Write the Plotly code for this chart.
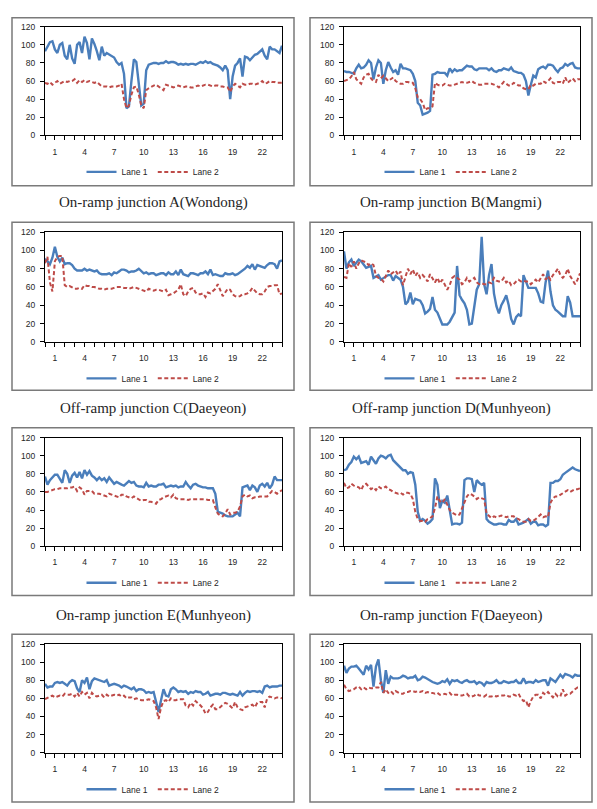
import plotly.graph_objects as go

# ---------------- data (speed, km/h, quarter-hour samples 0..24 h) ----------------
X_TICK_LABELS = ["1", "4", "7", "10", "13", "16", "19", "22"]
Y_TICKS = [0, 20, 40, 60, 80, 100, 120]
SERIES_NAMES = ["Lane 1", "Lane 2"]
CAPTIONS = ["On-ramp junction A(Wondong)", "On-ramp junction B(Mangmi)",
            "Off-ramp junction C(Daeyeon)", "Off-ramp junction D(Munhyeon)",
            "On-ramp junction E(Munhyeon)", "On-ramp junction F(Daeyeon)", "", ""]

A_LANE1 = [93, 98, 103, 104, 95, 91, 100, 102, 88, 84, 100, 85, 79, 100, 103, 91,
           109, 102, 84, 107, 101, 93, 83, 98, 88, 91, 89, 88, 86, 81, 78, 80,
           68, 30, 32, 60, 84, 81, 55, 33, 35, 72, 78, 79, 80, 80, 79, 80,
           80, 82, 80, 81, 81, 80, 78, 79, 78, 79, 78, 79, 79, 78, 80, 81,
           80, 82, 80, 81, 79, 78, 77, 75, 72, 77, 72, 40, 65, 77, 80, 85,
           65, 87, 86, 83, 86, 89, 90, 93, 95, 88, 84, 98, 95, 95, 93, 91, 99]
A_LANE2 = [58, 57, 59, 56, 58, 60, 57, 59, 60, 59, 60, 60, 62, 58, 61, 59,
           61, 59, 60, 59, 58, 59, 57, 54, 54, 54, 53, 54, 54, 54, 55, 57,
           40, 30, 33, 45, 53, 54, 45, 33, 30, 50, 52, 54, 55, 56, 54, 53,
           50, 56, 55, 54, 53, 54, 55, 54, 53, 54, 54, 53, 53, 54, 55, 54,
           55, 56, 56, 55, 54, 55, 55, 54, 54, 53, 53, 48, 54, 57, 55, 53,
           57, 56, 56, 57, 57, 56, 57, 58, 60, 57, 58, 60, 59, 59, 58, 58, 58]

B_LANE1 = [71, 70, 70, 69, 68, 74, 78, 74, 75, 78, 83, 80, 62, 75, 83, 80,
           57, 72, 81, 75, 70, 72, 67, 79, 74, 74, 73, 72, 68, 60, 36, 33,
           23, 24, 25, 27, 67, 68, 70, 69, 69, 69, 66, 74, 70, 73, 71, 72,
           72, 75, 77, 76, 76, 73, 72, 74, 74, 74, 74, 72, 74, 71, 70, 72,
           72, 74, 73, 72, 75, 71, 70, 69, 69, 67, 60, 44, 56, 66, 64, 73,
           75, 76, 74, 78, 78, 77, 73, 70, 74, 75, 79, 77, 79, 80, 75, 74, 74]
B_LANE2 = [60, 61, 62, 65, 70, 62, 60, 57, 64, 67, 68, 63, 60, 59, 67, 63,
           66, 63, 60, 62, 64, 60, 58, 57, 57, 59, 59, 58, 58, 52, 42, 40,
           36, 28, 30, 30, 32, 58, 56, 55, 55, 57, 56, 55, 55, 56, 57, 58,
           59, 58, 58, 59, 60, 58, 57, 56, 56, 57, 57, 57, 57, 56, 55, 53,
           56, 59, 57, 55, 55, 58, 57, 55, 55, 52, 51, 51, 56, 55, 57, 57,
           57, 60, 58, 60, 63, 58, 57, 59, 59, 57, 64, 58, 60, 63, 60, 62, 62]

C_LANE1 = [91, 88, 85, 92, 104, 93, 88, 92, 85, 86, 86, 84, 80, 78, 78, 78,
           80, 78, 79, 78, 77, 78, 75, 74, 74, 74, 75, 73, 76, 75, 77, 79,
           79, 78, 76, 77, 77, 78, 80, 77, 75, 76, 74, 75, 75, 73, 74, 75,
           75, 73, 76, 74, 74, 77, 73, 79, 74, 73, 72, 75, 75, 74, 73, 75,
           75, 77, 74, 79, 73, 74, 73, 72, 72, 75, 74, 74, 75, 73, 74, 76,
           78, 80, 83, 81, 85, 79, 84, 83, 82, 81, 84, 86, 86, 85, 80, 88, 89]
C_LANE2 = [86, 93, 65, 55, 88, 93, 94, 94, 62, 60, 61, 59, 58, 58, 59, 58,
           62, 61, 61, 60, 60, 59, 58, 58, 57, 58, 58, 58, 59, 60, 60, 60,
           59, 59, 58, 59, 60, 59, 58, 57, 56, 55, 58, 57, 56, 57, 57, 56,
           55, 57, 51, 52, 53, 55, 57, 63, 52, 50, 55, 58, 59, 54, 52, 52,
           53, 49, 54, 53, 55, 58, 63, 57, 50, 54, 58, 57, 52, 50, 49, 50,
           52, 52, 53, 55, 59, 56, 53, 52, 52, 55, 60, 61, 61, 62, 62, 52, 53]

D_LANE1 = [99, 80, 87, 90, 83, 86, 90, 88, 85, 81, 82, 83, 70, 72, 73, 68,
           70, 72, 73, 73, 67, 72, 70, 68, 60, 41, 44, 54, 41, 47, 46, 45,
           40, 31, 33, 36, 49, 35, 32, 26, 19, 19, 19, 22, 28, 32, 83, 51,
           46, 42, 35, 19, 20, 40, 57, 63, 115, 63, 52, 73, 85, 53, 39, 31,
           40, 45, 51, 40, 25, 19, 27, 30, 28, 73, 65, 59, 59, 59, 59, 53,
           44, 43, 65, 78, 55, 40, 35, 33, 30, 28, 28, 50, 43, 28, 28, 28, 28]
D_LANE2 = [71, 70, 86, 82, 88, 80, 86, 89, 88, 87, 84, 86, 84, 72, 70, 69,
           66, 72, 78, 74, 76, 78, 73, 77, 62, 72, 80, 74, 79, 72, 76, 70,
           73, 70, 66, 74, 70, 65, 70, 64, 68, 62, 57, 62, 70, 72, 70, 68,
           63, 65, 70, 66, 68, 70, 65, 63, 64, 63, 63, 65, 64, 70, 67, 66,
           66, 70, 65, 67, 62, 63, 66, 68, 66, 67, 66, 66, 63, 65, 68, 65,
           70, 74, 68, 72, 68, 73, 76, 80, 73, 70, 73, 80, 72, 68, 63, 68, 75]

E_LANE1 = [77, 68, 73, 76, 79, 79, 75, 70, 84, 80, 70, 78, 81, 76, 82, 75,
           84, 79, 83, 78, 76, 73, 76, 73, 75, 71, 76, 73, 69, 71, 69, 68,
           67, 69, 72, 70, 71, 67, 66, 66, 65, 70, 66, 67, 66, 66, 68, 68,
           69, 65, 66, 67, 66, 67, 65, 66, 66, 71, 67, 64, 68, 69, 67, 66,
           65, 65, 64, 64, 64, 58, 38, 37, 36, 34, 33, 33, 33, 35, 37, 33,
           65, 66, 67, 62, 67, 65, 60, 67, 69, 66, 70, 64, 68, 77, 73, 73, 73]
E_LANE2 = [60, 60, 61, 62, 63, 63, 64, 64, 64, 64, 65, 65, 66, 61, 65, 63,
           57, 61, 61, 61, 58, 58, 58, 57, 56, 55, 58, 57, 56, 55, 54, 57,
           57, 55, 54, 53, 55, 53, 52, 50, 51, 51, 49, 49, 48, 47, 51, 52,
           54, 55, 56, 54, 57, 53, 52, 52, 52, 52, 51, 52, 52, 52, 52, 52,
           52, 52, 51, 51, 51, 43, 36, 34, 33, 36, 41, 35, 37, 37, 38, 44,
           55, 57, 55, 56, 53, 54, 54, 55, 55, 55, 55, 58, 61, 60, 58, 60, 62]

F_LANE1 = [84, 85, 90, 93, 99, 96, 99, 92, 93, 94, 90, 99, 95, 91, 97, 100,
           99, 97, 100, 101, 95, 92, 89, 87, 84, 84, 80, 82, 81, 68, 38, 28,
           30, 28, 25, 27, 30, 75, 68, 42, 50, 48, 56, 40, 24, 25, 25, 24,
           26, 73, 75, 75, 74, 60, 73, 70, 68, 70, 30, 27, 25, 24, 24, 25,
           25, 24, 24, 29, 27, 27, 30, 24, 25, 26, 28, 30, 25, 27, 27, 23,
           24, 24, 22, 24, 70, 70, 72, 72, 74, 79, 81, 83, 85, 87, 85, 84, 83]
F_LANE2 = [70, 64, 65, 69, 67, 66, 65, 62, 68, 69, 66, 63, 65, 62, 66, 64,
           64, 66, 63, 62, 60, 59, 58, 59, 57, 59, 59, 58, 52, 38, 30, 28,
           28, 27, 30, 31, 33, 42, 55, 50, 48, 52, 46, 40, 37, 35, 34, 35,
           42, 48, 55, 58, 57, 55, 52, 54, 53, 52, 36, 33, 31, 33, 32, 33,
           34, 33, 32, 33, 33, 33, 31, 30, 28, 27, 27, 30, 28, 28, 30, 32,
           35, 32, 33, 32, 48, 53, 55, 55, 57, 58, 60, 62, 60, 62, 63, 63, 64]

G_LANE1 = [76, 72, 73, 73, 77, 78, 77, 78, 76, 74, 78, 80, 79, 71, 67, 80,
           77, 83, 70, 79, 82, 81, 80, 79, 78, 80, 74, 75, 76, 75, 74, 72,
           74, 73, 71, 70, 72, 68, 70, 70, 69, 66, 67, 66, 67, 55, 45, 58,
           70, 63, 62, 70, 72, 70, 67, 68, 67, 68, 65, 67, 66, 68, 67, 67,
           64, 65, 67, 63, 64, 65, 65, 64, 66, 66, 65, 64, 65, 64, 63, 67,
           63, 66, 68, 67, 68, 68, 67, 68, 66, 73, 74, 72, 73, 73, 73, 74, 74]
G_LANE2 = [59, 61, 62, 63, 61, 62, 63, 62, 65, 64, 64, 65, 62, 66, 62, 67,
           64, 66, 60, 66, 63, 62, 63, 64, 61, 64, 62, 63, 64, 63, 64, 62,
           63, 60, 61, 61, 59, 60, 59, 58, 58, 58, 59, 58, 57, 50, 37, 50,
           57, 58, 56, 60, 58, 58, 59, 59, 59, 52, 50, 55, 52, 57, 55, 52,
           49, 43, 45, 50, 53, 48, 48, 50, 52, 55, 54, 52, 49, 56, 50, 48,
           47, 50, 51, 52, 53, 50, 55, 56, 56, 50, 60, 62, 61, 60, 61, 61, 60]

H_LANE1 = [96, 88, 93, 95, 95, 96, 93, 90, 86, 96, 92, 97, 73, 95, 103, 80,
           66, 91, 76, 84, 82, 82, 82, 83, 85, 84, 82, 83, 83, 85, 80, 81,
           84, 83, 81, 79, 78, 77, 76, 77, 79, 78, 81, 76, 80, 79, 80, 78,
           77, 79, 80, 78, 78, 79, 76, 78, 77, 74, 78, 77, 77, 78, 80, 77,
           77, 79, 78, 77, 78, 78, 80, 77, 77, 82, 77, 78, 78, 77, 80, 78,
           79, 80, 80, 74, 82, 80, 78, 82, 86, 83, 87, 86, 85, 83, 86, 85, 85]
H_LANE2 = [75, 70, 68, 69, 70, 72, 73, 70, 72, 70, 72, 71, 71, 72, 72, 78,
           66, 70, 66, 68, 65, 68, 66, 65, 65, 67, 67, 68, 68, 67, 68, 67,
           68, 66, 67, 66, 66, 65, 66, 64, 64, 65, 64, 66, 63, 64, 64, 63,
           63, 64, 65, 62, 62, 63, 65, 63, 63, 62, 64, 62, 62, 63, 62, 63,
           63, 63, 64, 62, 62, 64, 63, 65, 60, 57, 58, 50, 57, 62, 64, 64,
           60, 66, 64, 67, 64, 61, 65, 62, 62, 70, 63, 65, 65, 68, 70, 72, 72]

PANELS = [(A_LANE1, A_LANE2), (B_LANE1, B_LANE2), (C_LANE1, C_LANE2), (D_LANE1, D_LANE2),
          (E_LANE1, E_LANE2), (F_LANE1, F_LANE2), (G_LANE1, G_LANE2), (H_LANE1, H_LANE2)]

# ---------------- layout geometry (pixels) ----------------
W, H = 597, 809
COL_PLOT = [(45, 282), (344, 580)]
ROW_PLOT = [(22, 132), (230, 341), (438, 548), (647, 757)]
COL_BOX = [(12, 294), (310, 592)]
ROW_BOX = [(13, 183), (220, 390), (428, 598), (637, 807)]
CAPTION_Y = [200, 409, 618]

BLUE = "#4a7ebb"
RED = "#be4b48"
TEXT = "#262626"

fig = go.Figure()
layout = dict(width=W, height=H, margin=dict(l=0, r=0, t=0, b=0),
              paper_bgcolor="white", plot_bgcolor="white",
              font=dict(family="Liberation Sans, Arial", size=9, color=TEXT),
              shapes=[], annotations=[])

tickvals_x = list(range(25))
ticktext_x = [str(h) if str(h) in X_TICK_LABELS else "" for h in tickvals_x]

for k, (lane1, lane2) in enumerate(PANELS):
    r, c = divmod(k, 2)
    sfx = "" if k == 0 else str(k + 1)
    xa, ya = "x" + sfx, "y" + sfx
    leg = "legend" + sfx
    x0, x1 = COL_PLOT[c]
    y0, y1 = ROW_PLOT[r]
    for name, vals, color, dash, width in [(SERIES_NAMES[0], lane1, BLUE, "solid", 2.4),
                                           (SERIES_NAMES[1], lane2, RED, "4px,2.5px", 2.0)]:
        fig.add_trace(go.Scatter(
            x=[i / 4 for i in range(len(vals))], y=vals, mode="lines", name=name,
            line=dict(color=color, width=width, dash=dash),
            xaxis=xa, yaxis=ya, legend=leg, showlegend=True, hoverinfo="skip"))
    layout["xaxis" + sfx] = dict(
        domain=[x0 / W, x1 / W], range=[0, 24], anchor=ya,
        tickmode="array", tickvals=tickvals_x, ticktext=ticktext_x,
        ticks="outside", ticklen=4, tickwidth=1, tickcolor="black",
        showline=True, linecolor="black", linewidth=1, mirror=True,
        showgrid=False, zeroline=False, tickfont=dict(size=8.5, color=TEXT),
        ticklabelstandoff=4, fixedrange=True)
    layout["yaxis" + sfx] = dict(
        domain=[1 - y1 / H, 1 - y0 / H], range=[0, 120], anchor=xa,
        tickmode="array", tickvals=Y_TICKS,
        ticks="outside", ticklen=4, tickwidth=1, tickcolor="black",
        showline=True, linecolor="black", linewidth=1, mirror=True,
        showgrid=False, zeroline=False, tickfont=dict(size=8.5, color=TEXT),
        ticklabelstandoff=3, fixedrange=True)
    bx0, bx1 = COL_BOX[c]
    by0, by1 = ROW_BOX[r]
    layout[leg] = dict(orientation="h", x=(bx0 + bx1) / 2 / W, xanchor="center",
                       y=1 - (y1 + 37) / H, yanchor="middle",
                       font=dict(size=8.5, color=TEXT), bgcolor="rgba(0,0,0,0)",
                       itemwidth=30, tracegroupgap=0)
    layout["shapes"].append(dict(type="rect", xref="paper", yref="paper",
                                 x0=bx0 / W, x1=bx1 / W, y0=1 - by1 / H, y1=1 - by0 / H,
                                 line=dict(color="#7a7a7a", width=1.5), layer="below"))
    if CAPTIONS[k]:
        layout["annotations"].append(dict(
            text=CAPTIONS[k], xref="paper", yref="paper",
            x=(bx0 + bx1) / 2 / W, y=1 - CAPTION_Y[r] / H,
            xanchor="center", yanchor="middle", showarrow=False,
            font=dict(family="Liberation Serif, Times New Roman", size=15, color=TEXT)))

fig.update_layout(**layout)
fig.write_html("out.html")
